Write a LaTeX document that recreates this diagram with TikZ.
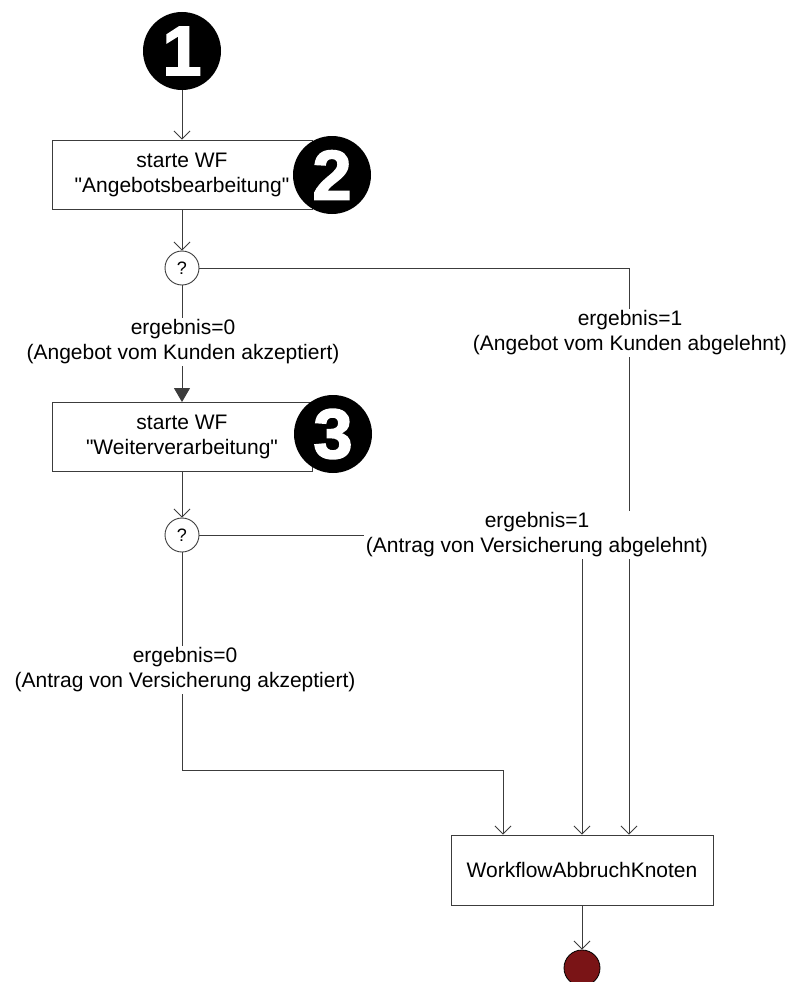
\documentclass[tikz,border=0pt]{standalone}
\usepackage{fontspec}
\setmainfont{Liberation Sans}[Ligatures=TeXOff]
\newfontfamily\badgefont[FakeBold=2.5]{Liberation Sans Bold}
\usetikzlibrary{arrows.meta}
\definecolor{enddot}{RGB}{122,20,22}
\definecolor{edgegray}{RGB}{60,60,60}
\begin{document}
\begin{tikzpicture}[x=1pt,y=-1pt,
  font=\fontsize{21}{25}\selectfont,
  conn/.style={draw=edgegray, line width=0.9pt},
  barb/.style={-{Straight Barb[length=8pt,width=16pt,line width=0.9pt]}},
  tri/.style={-{Triangle[length=14pt,width=16pt]}},
  task/.style={rectangle, draw=edgegray, line width=0.9pt, fill=white,
    minimum width=260pt, minimum height=69pt, align=center, inner sep=0pt},
  decision/.style={circle, draw=edgegray, line width=0.9pt, fill=white,
    minimum size=34pt, inner sep=0pt, font=\fontsize{18}{18}\selectfont},
  cond/.style={fill=white, align=center, inner sep=2pt},
  badge/.style={circle, fill=black, minimum size=78pt, inner sep=0pt,
    text=white, font=\badgefont\fontsize{70}{70}\selectfont},
  final/.style={circle, draw=black, line width=0.8pt, fill=enddot,
    minimum size=36pt, inner sep=0pt}]
\useasboundingbox (0,0) rectangle (792,982);

% start badge and the two sub-workflow tasks
\node[badge] (b1) at (182,51) {1};
\node[task] (t1) at (182,174.5) {starte WF\\"Angebotsbearbeitung"};
\node[badge] (b2) at (332,175) {2};
\node[decision] (d1) at (182,268) {?};
\node[task] (t2) at (182,437) {starte WF\\"Weiterverarbeitung"};
\node[badge] (b3) at (333,434) {3};
\node[decision] (d2) at (182,535) {?};

% abort node and final state
\node[task, minimum width=262pt, minimum height=70pt] (abort) at (582,870) {WorkflowAbbruchKnoten};
\node[final] (end) at (582,968) {};

% connectors
\draw[conn,barb] (b1.south) -- (t1.north);
\draw[conn,barb] (t1.south) -- (d1.north);
\draw[conn,tri] (d1.south) -- (t2.north);
\draw[conn,barb] (t2.south) -- (d2.north);
\draw[conn,barb] (d1.east) -| ([xshift=47pt]abort.north);
\draw[conn,barb] (d2.east) -| (abort.north);
\coordinate (bend) at (182,770);
\draw[conn,barb] (d2.south) -- (bend) -| ([xshift=-79pt]abort.north);
\draw[conn,barb] (abort.south) -- (end.north);

% branch conditions, set over the connectors
\node[cond] (l1) at (183,342) {ergebnis=0\\(Angebot vom Kunden akzeptiert)};
\node[cond] (r1) at (630,333) {ergebnis=1\\(Angebot vom Kunden abgelehnt)};
\node[cond] (r2) at (537,535) {ergebnis=1\\(Antrag von Versicherung abgelehnt)};
\node[cond] (l2) at (185,670) {ergebnis=0\\(Antrag von Versicherung akzeptiert)};
\end{tikzpicture}
\end{document}
